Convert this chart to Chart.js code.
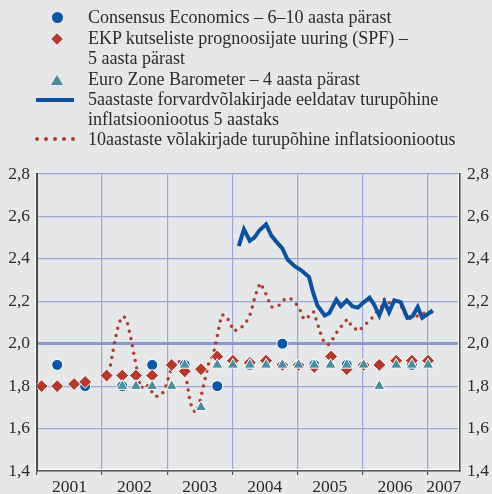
<!DOCTYPE html>
<html lang="et">
<head>
<meta charset="utf-8">
<script src="https://cdn.jsdelivr.net/npm/chart.js@4/dist/chart.umd.min.js"></script>
<style>
  html, body { margin: 0; padding: 0; background: #e6e7e9; }
  #wrap { position: relative; width: 492px; height: 494px; overflow: hidden; }
  #chart { position: absolute; left: 0; top: 0; }
  .leg { position: absolute; left: 88px; font-family: "Liberation Serif", "DejaVu Serif", serif;
         font-size: 18px; line-height: 20px; color: #2b2b2b; white-space: nowrap; }
  .sym { position: absolute; }
</style>
</head>
<body>
<div id="wrap">
  <canvas id="chart" width="492" height="494"></canvas>

  <!-- legend -->
  <div class="sym" style="left:52px;top:12px;width:11px;height:11px;border-radius:50%;background:#0b56a5;"></div>
  <div class="leg" style="top:7px;">Consensus Economics – 6–10 aasta pärast</div>

  <div class="sym" style="left:53px;top:35px;width:8px;height:8px;background:#b23a2f;transform:rotate(45deg);"></div>
  <div class="leg" style="top:28px;">EKP kutseliste prognoosijate uuring (SPF) –<br>5 aasta pärast</div>

  <div class="sym" style="left:51px;top:75px;width:0;height:0;border-left:6px solid transparent;border-right:6px solid transparent;border-bottom:10px solid #4b8d9b;"></div>
  <div class="leg" style="top:69px;">Euro Zone Barometer – 4 aasta pärast</div>

  <div class="sym" style="left:36px;top:98px;width:38px;height:4px;background:#0d51a0;"></div>
  <div class="leg" style="top:89px;">5aastaste forvardvõlakirjade eeldatav turupõhine<br>inflatsiooniootus 5 aastaks</div>

  <div class="sym" id="dots" style="left:35px;top:137px;width:42px;height:4px;"></div>
  <div class="leg" style="top:129px;">10aastaste võlakirjade turupõhine inflatsiooniootus</div>
</div>

<script>
// Consensus Economics - 6-10 aasta pärast
const consensusX = [2001.31, 2001.74, 2002.31, 2002.77, 2003.27, 2003.77, 2004.27, 2004.77, 2005.26, 2005.76, 2006.26, 2006.76];
const consensusY = [1.9, 1.8, 1.8, 1.9, 1.9, 1.8, 1.9, 2.0, 1.9, 1.9, 1.9, 1.9];

// EKP SPF - 5 aasta pärast
const spfX = [2001.07, 2001.31, 2001.57, 2001.74, 2002.07, 2002.31, 2002.52, 2002.77, 2003.07, 2003.27, 2003.52, 2003.77,
              2004.01, 2004.27, 2004.52, 2004.77, 2005.02, 2005.26, 2005.52, 2005.76, 2006.02, 2006.26, 2006.52, 2006.76, 2007.01];
const spfY = [1.80, 1.80, 1.81, 1.82, 1.85, 1.85, 1.85, 1.85, 1.90, 1.87, 1.88, 1.94,
              1.92, 1.91, 1.92, 1.90, 1.90, 1.89, 1.94, 1.88, 1.90, 1.90, 1.92, 1.92, 1.92];

// Euro Zone Barometer - 4 aasta pärast
const ezbX = [2002.31, 2002.52, 2002.77, 2003.07, 2003.27, 2003.52, 2003.77, 2004.01, 2004.27, 2004.52, 2004.77,
              2005.02, 2005.26, 2005.51, 2005.76, 2006.02, 2006.26, 2006.52, 2006.76, 2007.01];
const ezbY = [1.8, 1.8, 1.8, 1.8, 1.9, 1.7, 1.9, 1.9, 1.9, 1.9, 1.9,
              1.9, 1.9, 1.9, 1.9, 1.9, 1.8, 1.9, 1.9, 1.9];

// 5aastaste forvardvõlakirjade turupõhine ootus
const fwdX = [2004.10, 2004.18, 2004.27, 2004.34, 2004.42, 2004.52, 2004.60, 2004.68, 2004.77, 2004.85, 2004.96,
              2005.06, 2005.18, 2005.24, 2005.31, 2005.42, 2005.49, 2005.60, 2005.67, 2005.76, 2005.85, 2005.93,
              2006.00, 2006.11, 2006.18, 2006.26, 2006.34, 2006.41, 2006.49, 2006.59, 2006.69, 2006.77, 2006.85,
              2006.92, 2007.00, 2007.08];
const fwdY = [2.46, 2.539, 2.485, 2.50, 2.535, 2.563, 2.51, 2.48, 2.449, 2.397, 2.365,
              2.346, 2.314, 2.244, 2.18, 2.133, 2.144, 2.208, 2.176, 2.204, 2.176, 2.17,
              2.19, 2.217, 2.185, 2.133, 2.196, 2.149, 2.204, 2.196, 2.122, 2.129, 2.173,
              2.122, 2.138, 2.157];

// 10aastaste võlakirjade turupõhine ootus
const bondX = [2002.13, 2002.20, 2002.26, 2002.33, 2002.38, 2002.44, 2002.49, 2002.54, 2002.59, 2002.68, 2002.82,
               2002.92, 2002.98, 2003.05, 2003.18, 2003.27, 2003.31, 2003.35, 2003.39, 2003.44, 2003.49, 2003.55,
               2003.64, 2003.71, 2003.76, 2003.81, 2003.84, 2003.91, 2003.97, 2004.02, 2004.12, 2004.21, 2004.27,
               2004.31, 2004.34, 2004.38, 2004.43, 2004.50, 2004.55, 2004.60, 2004.71, 2004.80, 2004.89, 2004.98,
               2005.05, 2005.10, 2005.16, 2005.25, 2005.29, 2005.33, 2005.37, 2005.42, 2005.48, 2005.56, 2005.63,
               2005.71, 2005.77, 2005.84, 2005.94, 2006.03, 2006.13, 2006.22, 2006.29, 2006.34, 2006.40, 2006.52,
               2006.59, 2006.64, 2006.72, 2006.83, 2006.95, 2007.08];
const bondY = [1.90, 2.02, 2.10, 2.13, 2.11, 2.03, 1.95, 1.87, 1.79, 1.81, 1.75,
               1.76, 1.80, 1.87, 1.92, 1.87, 1.81, 1.73, 1.69, 1.675, 1.71, 1.79,
               1.91, 1.95, 2.02, 2.10, 2.137, 2.13, 2.095, 2.06, 2.07, 2.10, 2.133,
               2.173, 2.21, 2.25, 2.286, 2.247, 2.21, 2.173, 2.178, 2.208, 2.215, 2.19,
               2.154, 2.114, 2.125, 2.151, 2.113, 2.075, 2.037, 2.00, 1.996, 2.029, 2.066,
               2.094, 2.116, 2.081, 2.059, 2.086, 2.114, 2.15, 2.173, 2.212, 2.192, 2.201,
               2.18, 2.149, 2.118, 2.129, 2.144, 2.149];

// x-telje aastad ja y-telje jaotised
const years = [2001, 2002, 2003, 2004, 2005, 2006, 2007];
const yMin = 1.4, yMax = 2.8, yStep = 0.2;

const SERIF = '"Liberation Serif", "DejaVu Serif", serif';
const TEXT = '#2b2b2b';
const GRID = '#9ba7d6';

function pts(xs, ys) {
    return xs.map((x, i) => ({ x: x, y: ys[i] }));
}

// legend dots
(function () {
    const d = document.getElementById('dots');
    for (let i = 0; i < 5; i++) {
        const s = document.createElement('div');
        s.style.cssText = 'position:absolute;top:0;width:4px;height:4px;border-radius:50%;background:#b23a2f;left:' + (i * 9) + 'px';
        d.appendChild(s);
    }
})();

// aasta sildid keset aastat, 2007 ainult poolaasta
const xTicks = [];
years.forEach(y => {
    xTicks.push({ value: y });
    xTicks.push({ value: y === 2007 ? 2007.25 : y + 0.5 });
});
xTicks.push({ value: 2007.5 });

const isYear = v => Math.abs(v - Math.round(v)) < 1e-6 && v < 2007.5;

// valged servajooned telgede kõrval
const frameLight = {
    id: 'frameLight',
    afterDraw(chart) {
        const a = chart.chartArea, c = chart.ctx;
        c.save();
        c.strokeStyle = '#ffffff';
        c.lineWidth = 1;
        c.beginPath();
        c.moveTo(a.left - 1.5, a.top); c.lineTo(a.left - 1.5, a.bottom + 1);
        c.moveTo(a.right - 1.5, a.top); c.lineTo(a.right - 1.5, a.bottom - 1);
        c.moveTo(a.left + 1, a.bottom - 1.5); c.lineTo(a.right - 1, a.bottom - 1.5);
        c.stroke();
        c.restore();
    }
};

const yTickCb = v => v.toFixed(1).replace('.', ',');

new Chart(document.getElementById('chart'), {
    type: 'line',
    data: {
        datasets: [
            {
                label: 'Euro Zone Barometer – 4 aasta pärast',
                data: pts(ezbX, ezbY),
                showLine: false,
                pointStyle: 'triangle',
                pointRadius: 6.5,
                backgroundColor: '#4b8d9b',
                borderColor: '#ffffff',
                pointBorderWidth: 1
            },
            {
                label: 'EKP kutseliste prognoosijate uuring (SPF) – 5 aasta pärast',
                data: pts(spfX, spfY),
                showLine: false,
                pointStyle: 'rectRot',
                pointRadius: 6.5,
                backgroundColor: '#b23a2f',
                borderColor: '#ffffff',
                pointBorderWidth: 1
            },
            {
                label: 'Consensus Economics – 6–10 aasta pärast',
                data: pts(consensusX, consensusY),
                showLine: false,
                pointStyle: 'circle',
                pointRadius: 5.5,
                backgroundColor: '#0b56a5',
                borderColor: '#ffffff',
                pointBorderWidth: 1
            },
            {
                label: '5aastaste forvardvõlakirjade eeldatav turupõhine inflatsiooniootus 5 aastaks',
                data: pts(fwdX, fwdY),
                borderColor: '#0d51a0',
                borderWidth: 4,
                pointRadius: 0,
                tension: 0,
                borderJoinStyle: 'miter'
            },
            {
                label: '10aastaste võlakirjade turupõhine inflatsiooniootus',
                data: pts(bondX, bondY),
                borderColor: '#b23a2f',
                borderWidth: 3.5,
                borderDash: [0, 7.5],
                borderCapStyle: 'round',
                pointRadius: 0,
                tension: 0
            }
        ]
    },
    options: {
        responsive: false,
        animation: false,
        layout: { padding: { top: 174, left: 0, right: 0, bottom: 0 } },
        plugins: {
            legend: { display: false },
            tooltip: { enabled: false }
        },
        scales: {
            x: {
                type: 'linear',
                min: 2001,
                max: 2007.5,
                afterBuildTicks: scale => { scale.ticks = xTicks.map(t => ({ value: t.value })); },
                afterFit: scale => { scale.height = 23; },
                ticks: {
                    autoSkip: false,
                    maxRotation: 0,
                    padding: 2,
                    color: TEXT,
                    font: { family: SERIF, size: 17.5 },
                    callback: v => isYear(v) || v >= 2007.5 ? '' : String(Math.floor(v))
                },
                grid: {
                    color: c => isYear(c.tick.value) ? GRID : 'rgba(0,0,0,0)',
                    tickColor: c => isYear(c.tick.value) ? '#555555' : 'rgba(0,0,0,0)',
                    lineWidth: 1.2,
                    tickLength: 4
                },
                border: { display: true, color: '#555555', width: 1.5 }
            },
            y: {
                position: 'left',
                min: yMin,
                max: yMax,
                afterFit: scale => { scale.width = 37; },
                ticks: {
                    stepSize: yStep,
                    padding: 7,
                    color: TEXT,
                    font: { family: SERIF, size: 17.5 },
                    callback: yTickCb
                },
                grid: {
                    color: c => Math.abs(c.tick.value - 2) < 1e-6 ? '#8999d0' : GRID,
                    lineWidth: c => Math.abs(c.tick.value - 2) < 1e-6 ? 3 : 1.2,
                    drawTicks: false
                },
                border: { display: true, color: '#4a4a4a', width: 2 }
            },
            y2: {
                position: 'right',
                min: yMin,
                max: yMax,
                afterFit: scale => { scale.width = 32; },
                ticks: {
                    stepSize: yStep,
                    padding: 7,
                    color: TEXT,
                    font: { family: SERIF, size: 17.5 },
                    callback: yTickCb
                },
                grid: { drawOnChartArea: false, drawTicks: false },
                border: { display: true, color: '#4a4a4a', width: 1.5 }
            }
        }
    },
    plugins: [frameLight]
});
</script>
</body>
</html>
